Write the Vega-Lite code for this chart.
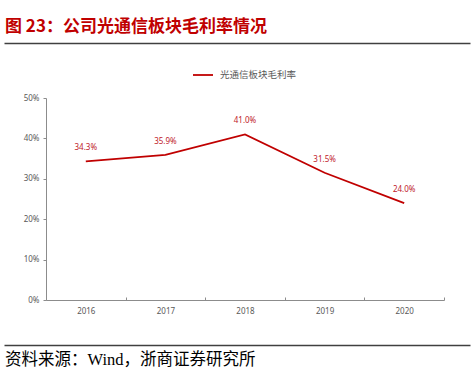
{
  "$schema": "https://vega.github.io/schema/vega-lite/v6.json",
  "padding": {"left": 4, "top": 17, "right": 4, "bottom": 2},
  "background": "white",
  "config": {"view": {"stroke": null}},
  "data": {"values": [
    {"year": "2016", "value": 0.343, "series": "光通信板块毛利率"},
    {"year": "2017", "value": 0.359, "series": "光通信板块毛利率"},
    {"year": "2018", "value": 0.410, "series": "光通信板块毛利率"},
    {"year": "2019", "value": 0.315, "series": "光通信板块毛利率"},
    {"year": "2020", "value": 0.240, "series": "光通信板块毛利率"}
  ]},
  "columns": 1,
  "spacing": 17,
  "resolve": {"legend": {"color": "independent"}, "scale": {"x": "independent"}},
  "concat": [
    {
      "width": 398,
      "height": 1,
      "title": {"text": "图 23：公司光通信板块毛利率情况", "anchor": "start", "dx": -41, "fontSize": 17, "fontWeight": "bold", "color": "#c00000", "font": "Noto Sans CJK SC", "offset": 5},
      "mark": {"type": "point", "opacity": 0},
      "encoding": {
        "x": {"field": "value", "type": "quantitative", "scale": {"range": [-42, 424]}, "axis": {"orient": "top", "domain": true, "domainColor": "#404040", "domainWidth": 1.5, "labels": false, "ticks": false, "grid": false, "title": null}}
      }
    },
    {
      "width": 398,
      "height": 202,
      "encoding": {
        "x": {"field": "year", "type": "nominal", "bandPosition": 0.5,
          "scale": {"type": "band", "paddingInner": 0, "paddingOuter": 0},
          "axis": {"title": null, "labelAngle": 0, "tickBand": "extent", "domainColor": "#8c8c8c", "tickColor": "#8c8c8c", "tickSize": -3, "labelPadding": 10, "labelColor": "#595959", "labelFontSize": 8, "labelFont": "Noto Sans", "minExtent": 25, "maxExtent": 25}},
        "y": {"field": "value", "type": "quantitative",
          "scale": {"domain": [0, 0.5]},
          "axis": {"title": null, "values": [0, 0.1, 0.2, 0.3, 0.4, 0.5], "format": ".0%", "grid": false, "domainColor": "#8c8c8c", "tickColor": "#8c8c8c", "tickSize": 3, "labelPadding": 4, "labelColor": "#595959", "labelFontSize": 8, "labelFont": "Noto Sans", "minExtent": 42, "maxExtent": 42}}
      },
      "layer": [
        {
          "mark": {"type": "line", "strokeWidth": 1.8},
          "encoding": {
            "color": {"field": "series", "type": "nominal", "scale": {"range": ["#c00000"]},
              "legend": {"title": null, "orient": "none", "legendX": 146, "legendY": -34, "symbolType": "stroke", "symbolSize": 400, "symbolStrokeWidth": 1.8, "labelFontSize": 9.5, "labelColor": "#595959", "labelFont": "Noto Sans CJK SC", "labelOffset": 6}}
          }
        },
        {
          "mark": {"type": "text", "dy": -13, "fontSize": 8, "font": "Noto Sans", "color": "#c0202a"},
          "encoding": {"text": {"field": "value", "type": "quantitative", "format": ".1%"}}
        }
      ]
    },
    {
      "width": 398,
      "height": 1,
      "title": {"text": "资料来源：Wind，浙商证券研究所", "orient": "bottom", "anchor": "start", "dx": -41, "fontSize": 16.5, "fontWeight": "normal", "color": "#000000", "font": "Liberation Serif, Noto Sans CJK SC", "offset": 4},
      "mark": {"type": "point", "opacity": 0},
      "encoding": {
        "x": {"field": "value", "type": "quantitative", "scale": {"range": [-42, 424]}, "axis": {"orient": "top", "domain": true, "domainColor": "#404040", "domainWidth": 1.5, "labels": false, "ticks": false, "grid": false, "title": null}}
      }
    }
  ]
}
